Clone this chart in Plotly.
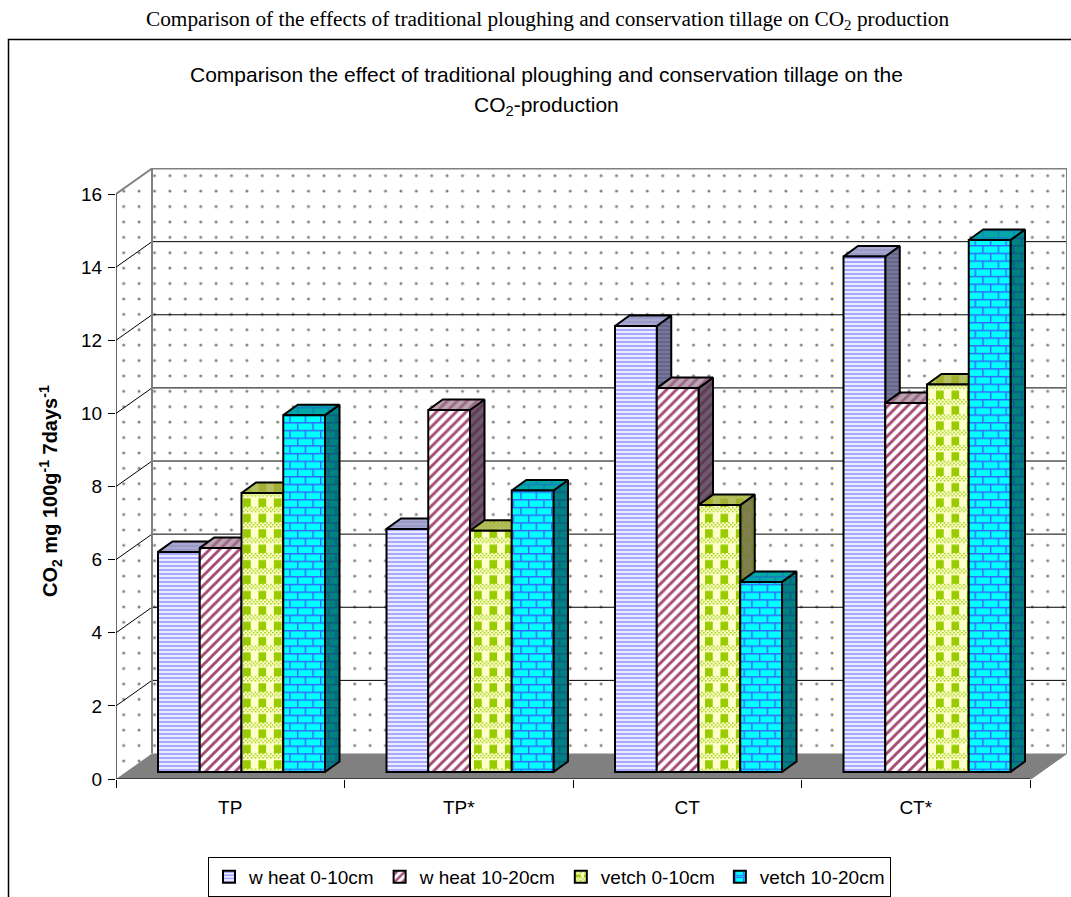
import plotly.graph_objects as go

# CO2 production by tillage system, soil layer and crop
categories = ["TP", "TP*", "CT", "CT*"]
series_names = ["w heat 0-10cm", "w heat 10-20cm", "vetch 0-10cm", "vetch 10-20cm"]
wheat_0_10 = [6.02, 6.65, 12.2, 14.1]
wheat_10_20 = [6.13, 9.9, 10.5, 10.09]
vetch_0_10 = [7.63, 6.6, 7.3, 10.6]
vetch_10_20 = [9.76, 7.7, 5.2, 14.55]
y_ticks = [0, 2, 4, 6, 8, 10, 12, 14, 16]

W, H = 1071, 897
LEFT, RIGHT, BOTTOM, TOP = 116, 1067, 779, 168
PX_PER_CAT = 228.5
PX_PER_UNIT = 36.56
x_range = [0, (RIGHT - LEFT) / PX_PER_CAT]
y_range = [0, (BOTTOM - TOP) / PX_PER_UNIT]
x_domain = [LEFT / W, RIGHT / W]
y_domain = [1 - BOTTOM / H, 1 - TOP / H]


def px_x(px):
    return px / PX_PER_CAT


def px_y(px):
    return px / PX_PER_UNIT


# Oblique projection offsets for the walls and the bar blocks
WALL_DX, WALL_DY = px_x(36), px_y(25.5)
BAR_DX, BAR_DY = px_x(14.5), px_y(10.5)
BAR_BASE = px_y(7)
BAR_W = 41.75 / PX_PER_CAT
BAR_START = 42 / PX_PER_CAT


def rect(x0, y0, x1, y1):
    return f"M{x0:.2f},{y0:.2f}H{x1:.2f}V{y1:.2f}H{x0:.2f}Z"


def brick_path(t):
    lw = 1.4
    h = t / 2
    parts = [rect(0, 0, t, lw), rect(0, h, t, h + lw)]
    parts.append(rect(t * 0.25, 0, t * 0.25 + lw, h))
    parts.append(rect(t * 0.75, h, t * 0.75 + lw, t))
    return "".join(parts)


def plaid_path(t):
    parts = [rect(t * 0.25, t * 0.45, t * 0.75, t)]
    d = t / 8
    # fine dither band across the tile
    for row in range(3):
        for col in range(8):
            if (row + col) % 2 == 0:
                parts.append(rect(col * d, row * d, (col + 0.8) * d, (row + 0.8) * d))
    return "".join(parts)


TILE = 15.4
front_patterns = [
    dict(shape="-", size=4, solidity=0.5, fgcolor="#A8A8FF", bgcolor="#ECECFF", fillmode="replace"),
    dict(shape="/", size=7, solidity=0.42, fgcolor="#A34A75", bgcolor="#FFFFFF", fillmode="replace"),
    dict(path=plaid_path(TILE), size=TILE, solidity=1, fgcolor="#99CC00", bgcolor="#FFFFCC", fillmode="replace"),
    dict(path=brick_path(TILE), size=TILE, solidity=1, fgcolor="#3366FF", bgcolor="#00FFFF", fillmode="replace"),
]
side_patterns = [
    dict(shape="-", size=4, solidity=0.5, fgcolor="#55557F", bgcolor="#77779A"),
    dict(shape="/", size=7, solidity=0.42, fgcolor="#4D1933", bgcolor="#6E5A6E"),
    dict(path=plaid_path(TILE), size=TILE, solidity=1, fgcolor="#667F00", bgcolor="#808050"),
    dict(path=brick_path(TILE), size=TILE, solidity=1, fgcolor="#1A3380", bgcolor="#008080"),
]
top_patterns = [
    dict(shape="-", size=4, solidity=0.5, fgcolor="#8C8CC0", bgcolor="#A8A8D0"),
    dict(shape="/", size=7, solidity=0.42, fgcolor="#7A2952", bgcolor="#BDA6B4"),
    dict(path=plaid_path(TILE), size=TILE, solidity=1, fgcolor="#8FA000", bgcolor="#B5C060"),
    dict(path=brick_path(TILE), size=TILE, solidity=1, fgcolor="#2952CC", bgcolor="#00A8A8"),
]

values = [wheat_0_10, wheat_10_20, vetch_0_10, vetch_10_20]
fig = go.Figure()


def polygon(xs, ys, **kw):
    fig.add_trace(go.Scatter(x=xs, y=ys, mode="lines", fill="toself",
                             hoverinfo="skip", showlegend=False, **kw))


# Floor, side wall and back wall
top_y = y_range[1]
right_x = x_range[1]
polygon([0, WALL_DX, right_x, right_x - WALL_DX, 0], [0, WALL_DY, WALL_DY, 0, 0],
        fillcolor="#808080", line=dict(color="#808080", width=1))
wall_dots = dict(shape=".", size=15.4, solidity=0.03, fgcolor="#000000", bgcolor="#FFFFFF")
polygon([0, WALL_DX, WALL_DX, 0, 0], [0, WALL_DY, top_y, top_y - WALL_DY, 0],
        fillcolor="#FFFFFF", fillpattern=wall_dots, line=dict(width=0))
polygon([WALL_DX, right_x, right_x, WALL_DX, WALL_DX], [WALL_DY, WALL_DY, top_y, top_y, WALL_DY],
        fillcolor="#FFFFFF", fillpattern=wall_dots, line=dict(width=0))

# Grid lines run across the side wall and along the back wall
for v in y_ticks[1:-1]:
    fig.add_trace(go.Scatter(x=[0, WALL_DX, right_x], y=[v, v + WALL_DY, v + WALL_DY],
                             mode="lines", line=dict(color="#000000", width=1),
                             hoverinfo="skip", showlegend=False))
fig.add_trace(go.Scatter(x=[0, WALL_DX, right_x, right_x], y=[16, 16 + WALL_DY, 16 + WALL_DY, WALL_DY],
                         mode="lines", line=dict(color="#808080", width=2),
                         hoverinfo="skip", showlegend=False))
fig.add_trace(go.Scatter(x=[WALL_DX, WALL_DX], y=[WALL_DY, 16 + WALL_DY],
                         mode="lines", line=dict(color="#808080", width=2),
                         hoverinfo="skip", showlegend=False))
fig.add_trace(go.Scatter(x=[0, 0], y=[0, 16], mode="lines", line=dict(color="#000000", width=1.2),
                         hoverinfo="skip", showlegend=False))
fig.add_trace(go.Scatter(x=[0, len(categories)], y=[0, 0], mode="lines", line=dict(color="#000000", width=1.2),
                         hoverinfo="skip", showlegend=False))

# Side and top faces of every block, left to right
for s, vals in enumerate(values):
    sx, sy, tx, ty = [], [], [], []
    for g, v in enumerate(vals):
        left = g + BAR_START + s * BAR_W
        right = left + BAR_W
        top = BAR_BASE + v
        sx += [right, right + BAR_DX, right + BAR_DX, right, right, None]
        sy += [BAR_BASE, BAR_BASE + BAR_DY, top + BAR_DY, top, BAR_BASE, None]
        tx += [left, left + BAR_DX, right + BAR_DX, right, left, None]
        ty += [top, top + BAR_DY, top + BAR_DY, top, top, None]
    polygon(sx, sy, fillcolor=side_patterns[s]["bgcolor"], fillpattern=side_patterns[s],
            line=dict(color="#000000", width=2))
    polygon(tx, ty, fillcolor=top_patterns[s]["bgcolor"], fillpattern=top_patterns[s],
            line=dict(color="#000000", width=2))

# Front faces sit on an overlaid pair of axes so they paint over the block sides
for s, vals in enumerate(values):
    fig.add_trace(go.Bar(
        x=[g + BAR_START + (s + 0.5) * BAR_W for g in range(len(categories))],
        y=vals, base=BAR_BASE, width=BAR_W, name=series_names[s],
        marker=dict(color=front_patterns[s]["bgcolor"], pattern=front_patterns[s],
                    line=dict(color="#000000", width=2)),
        xaxis="x2", yaxis="y2",
    ))

fig.update_layout(
    width=W, height=H, margin=dict(l=0, r=0, t=0, b=0, autoexpand=False),
    paper_bgcolor="#FFFFFF", plot_bgcolor="rgba(0,0,0,0)",
    barmode="overlay",
    font=dict(family="Liberation Sans", size=19, color="#000000"),
    xaxis=dict(domain=x_domain, range=x_range, fixedrange=True, showgrid=False, zeroline=False,
               showline=False, tickmode="array",
               tickvals=[i + 0.5 for i in range(len(categories))], ticktext=categories,
               ticks="", ticklabelstandoff=15, tickfont=dict(size=19),
               minor=dict(tickmode="array", tickvals=list(range(len(categories) + 1)),
                          ticks="outside", ticklen=8, tickcolor="#000000", tickwidth=1)),
    yaxis=dict(domain=y_domain, range=y_range, fixedrange=True, showgrid=False, zeroline=False,
               showline=False, tickmode="array", tickvals=y_ticks,
               ticks="outside", ticklen=7, tickcolor="#000000", tickwidth=1,
               tickfont=dict(size=19), ticklabelstandoff=2),
    xaxis2=dict(domain=x_domain, range=x_range, overlaying="x", visible=False, fixedrange=True),
    yaxis2=dict(domain=y_domain, range=y_range, overlaying="y", visible=False, fixedrange=True),
    legend=dict(orientation="h", x=208 / W, y=1 - 857 / H, xanchor="left", yanchor="top",
                bgcolor="#FFFFFF", bordercolor="#000000", borderwidth=1,
                font=dict(size=19), traceorder="normal"),
    shapes=[dict(type="path", xref="paper", yref="paper",
                 path=f"M{8.5 / W},0 L{8.5 / W},{1 - 39.5 / H} L1,{1 - 39.5 / H}",
                 line=dict(color="#000000", width=1.5), layer="below")],
    annotations=[
        dict(text="Comparison of the effects of traditional ploughing and conservation tillage on CO<sub>2</sub> production",
             x=548 / W, y=1 - 20 / H, xref="paper", yref="paper", showarrow=False,
             xanchor="center", yanchor="middle",
             font=dict(family="Liberation Serif", size=21.3)),
        dict(text="Comparison the effect of traditional ploughing and conservation tillage on the",
             x=546 / W, y=1 - 75 / H, xref="paper", yref="paper", showarrow=False,
             xanchor="center", yanchor="middle", font=dict(size=21)),
        dict(text="CO<sub>2</sub>-production",
             x=546 / W, y=1 - 106 / H, xref="paper", yref="paper", showarrow=False,
             xanchor="center", yanchor="middle", font=dict(size=21)),
        dict(text="<b>CO<sub>2</sub> mg 100g<sup>-1</sup> 7days<sup>-1</sup></b>",
             x=50 / W, y=1 - 491 / H, xref="paper", yref="paper", showarrow=False, textangle=-90,
             xanchor="center", yanchor="middle", font=dict(size=20)),
    ],
)

fig.write_html("out.html")
